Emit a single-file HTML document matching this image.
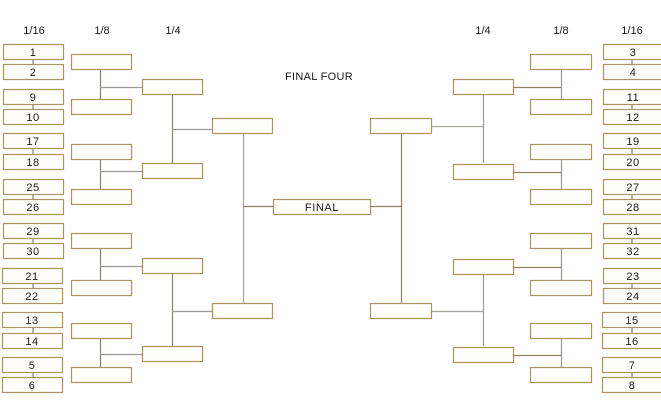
<!DOCTYPE html>
<html><head><meta charset="utf-8"><style>
html,body{margin:0;padding:0;background:#fff;}
svg{display:block;}
text{font-family:"Liberation Sans",sans-serif;fill:#1a1a1a;}
</style></head><body>
<svg width="661" height="419" viewBox="0 0 661 419" xmlns="http://www.w3.org/2000/svg">
<rect width="661" height="419" fill="#fff"/>
<!-- headers -->
<g font-size="11" text-anchor="middle">
<text x="34" y="34">1/16</text>
<text x="102" y="34">1/8</text>
<text x="173" y="34">1/4</text>
<text x="483" y="34">1/4</text>
<text x="561" y="34">1/8</text>
<text x="632" y="34">1/16</text>
<text x="319" y="80" font-size="11" letter-spacing="0.3">FINAL FOUR</text>
</g>
<!-- connectors -->
<g stroke="#8c8163" stroke-width="1.2" fill="none">
<!-- left 1/16 pairs -->
<path d="M33 59V64M33 104V109M33 149V154M33 194V199M33 239V243M33 283V288M33 328V333M33 373V377"/>
<!-- right 1/16 pairs -->
<path d="M632 59V64M632 104V109M632 149V154M632 194V199M632 239V243M632 283V288M632 328V333M632 373V377"/>
<!-- left 1/8 -->
<path d="M100.5 69V99M100.5 159V189M100.5 248V280M100.5 338V367"/>
<path d="M100 87.5H142M100 171.5H142M100 266.5H142M100 354.5H142" stroke="#9a9a92"/>
<!-- left 1/4 -->
<path d="M172.5 94V163M172.5 274V346"/>
<path d="M172 129.5H212M172 311.5H212" stroke="#9a9a92"/>
<!-- left semi -->
<path d="M243.5 134V303" stroke="#a5a5a0"/>
<path d="M243 206.5H273"/>
<!-- right 1/8 -->
<path d="M561.5 69V99M561.5 159V189M561.5 248V280M561.5 338V367" stroke="#9a9a92"/>
<path d="M514 87.5H561M514 172.5H561M514 267.5H561M514 355.5H561"/>
<!-- right 1/4 -->
<path d="M483.5 95V163M483.5 275V346" stroke="#9a9a92"/>
<path d="M432 126.5H483M432 311.5H483" stroke="#a5a5a0"/>
<!-- right semi -->
<path d="M401.5 134V303"/>
<path d="M371 206.5H401"/>
</g>
<!-- boxes -->
<g fill="#fffefa" stroke="#a8955f" stroke-width="1.2">
<!-- left 1/16 -->
<rect x="3.5" y="44.5" width="60" height="15"/>
<rect x="3.5" y="64.5" width="60" height="15"/>
<rect x="3.5" y="89.5" width="60" height="15"/>
<rect x="3.5" y="109.5" width="60" height="15"/>
<rect x="3.5" y="133.5" width="60" height="15"/>
<rect x="3.5" y="154.5" width="60" height="15"/>
<rect x="3.5" y="179.5" width="60" height="15"/>
<rect x="3.5" y="199.5" width="60" height="15"/>
<rect x="3.5" y="223.5" width="60" height="15"/>
<rect x="3.5" y="243.5" width="60" height="15"/>
<rect x="2.5" y="268.5" width="60" height="15"/>
<rect x="2.5" y="288.5" width="60" height="15"/>
<rect x="2.5" y="312.5" width="60" height="15"/>
<rect x="2.5" y="333.5" width="60" height="15"/>
<rect x="2.5" y="357.5" width="60" height="15"/>
<rect x="2.5" y="377.5" width="60" height="15"/>
<!-- right 1/16 -->
<rect x="603.5" y="44.5" width="62" height="15"/>
<rect x="603.5" y="64.5" width="62" height="15"/>
<rect x="603.5" y="89.5" width="62" height="15"/>
<rect x="603.5" y="109.5" width="62" height="15"/>
<rect x="603.5" y="133.5" width="62" height="15"/>
<rect x="603.5" y="154.5" width="62" height="15"/>
<rect x="603.5" y="179.5" width="62" height="15"/>
<rect x="603.5" y="199.5" width="62" height="15"/>
<rect x="603.5" y="223.5" width="62" height="15"/>
<rect x="603.5" y="243.5" width="62" height="15"/>
<rect x="603.5" y="268.5" width="62" height="15"/>
<rect x="603.5" y="288.5" width="62" height="15"/>
<rect x="602.5" y="312.5" width="62" height="15"/>
<rect x="602.5" y="333.5" width="62" height="15"/>
<rect x="602.5" y="357.5" width="62" height="15"/>
<rect x="602.5" y="377.5" width="62" height="15"/>
<!-- left 1/8 -->
<rect x="71.5" y="54.5" width="60" height="15"/>
<rect x="71.5" y="99.5" width="60" height="15"/>
<rect x="71.5" y="144.5" width="60" height="15"/>
<rect x="71.5" y="189.5" width="60" height="15"/>
<rect x="71.5" y="233.5" width="60" height="15"/>
<rect x="71.5" y="280.5" width="60" height="15"/>
<rect x="71.5" y="323.5" width="60" height="15"/>
<rect x="71.5" y="367.5" width="60" height="15"/>
<!-- right 1/8 -->
<rect x="530.5" y="54.5" width="61" height="15"/>
<rect x="530.5" y="99.5" width="61" height="15"/>
<rect x="530.5" y="144.5" width="61" height="15"/>
<rect x="530.5" y="189.5" width="61" height="15"/>
<rect x="530.5" y="233.5" width="61" height="15"/>
<rect x="530.5" y="280.5" width="61" height="15"/>
<rect x="530.5" y="323.5" width="61" height="15"/>
<rect x="530.5" y="367.5" width="61" height="15"/>
<!-- left 1/4 -->
<rect x="142.5" y="79.5" width="60" height="15"/>
<rect x="142.5" y="163.5" width="60" height="15"/>
<rect x="142.5" y="258.5" width="60" height="15"/>
<rect x="142.5" y="346.5" width="60" height="15"/>
<!-- right 1/4 -->
<rect x="453.5" y="79.5" width="60" height="15"/>
<rect x="453.5" y="164.5" width="60" height="15"/>
<rect x="453.5" y="259.5" width="60" height="15"/>
<rect x="453.5" y="347.5" width="60" height="15"/>
<!-- semis -->
<rect x="212.5" y="118.5" width="60" height="15"/>
<rect x="212.5" y="303.5" width="60" height="15"/>
<rect x="370.5" y="118.5" width="61" height="15"/>
<rect x="370.5" y="303.5" width="61" height="15"/>
<!-- final -->
<rect x="273.5" y="199.5" width="97" height="15"/>
</g>
<!-- numbers -->
<g font-size="11" text-anchor="middle" letter-spacing="0.5">
<text x="33" y="56">1</text>
<text x="33" y="76">2</text>
<text x="33" y="101">9</text>
<text x="33" y="121">10</text>
<text x="33" y="145">17</text>
<text x="33" y="166">18</text>
<text x="33" y="191">25</text>
<text x="33" y="211">26</text>
<text x="33" y="235">29</text>
<text x="33" y="255">30</text>
<text x="32" y="280">21</text>
<text x="32" y="300">22</text>
<text x="32" y="324">13</text>
<text x="32" y="345">14</text>
<text x="32" y="369">5</text>
<text x="32" y="389">6</text>
<text x="633" y="56">3</text>
<text x="633" y="76">4</text>
<text x="633" y="101">11</text>
<text x="633" y="121">12</text>
<text x="633" y="145">19</text>
<text x="633" y="166">20</text>
<text x="633" y="191">27</text>
<text x="633" y="211">28</text>
<text x="633" y="235">31</text>
<text x="633" y="255">32</text>
<text x="633" y="280">23</text>
<text x="633" y="300">24</text>
<text x="632" y="324">15</text>
<text x="632" y="345">16</text>
<text x="632" y="369">7</text>
<text x="632" y="389">8</text>
<text x="322" y="211" letter-spacing="0.6">FINAL</text>
</g>
</svg>
</body></html>
